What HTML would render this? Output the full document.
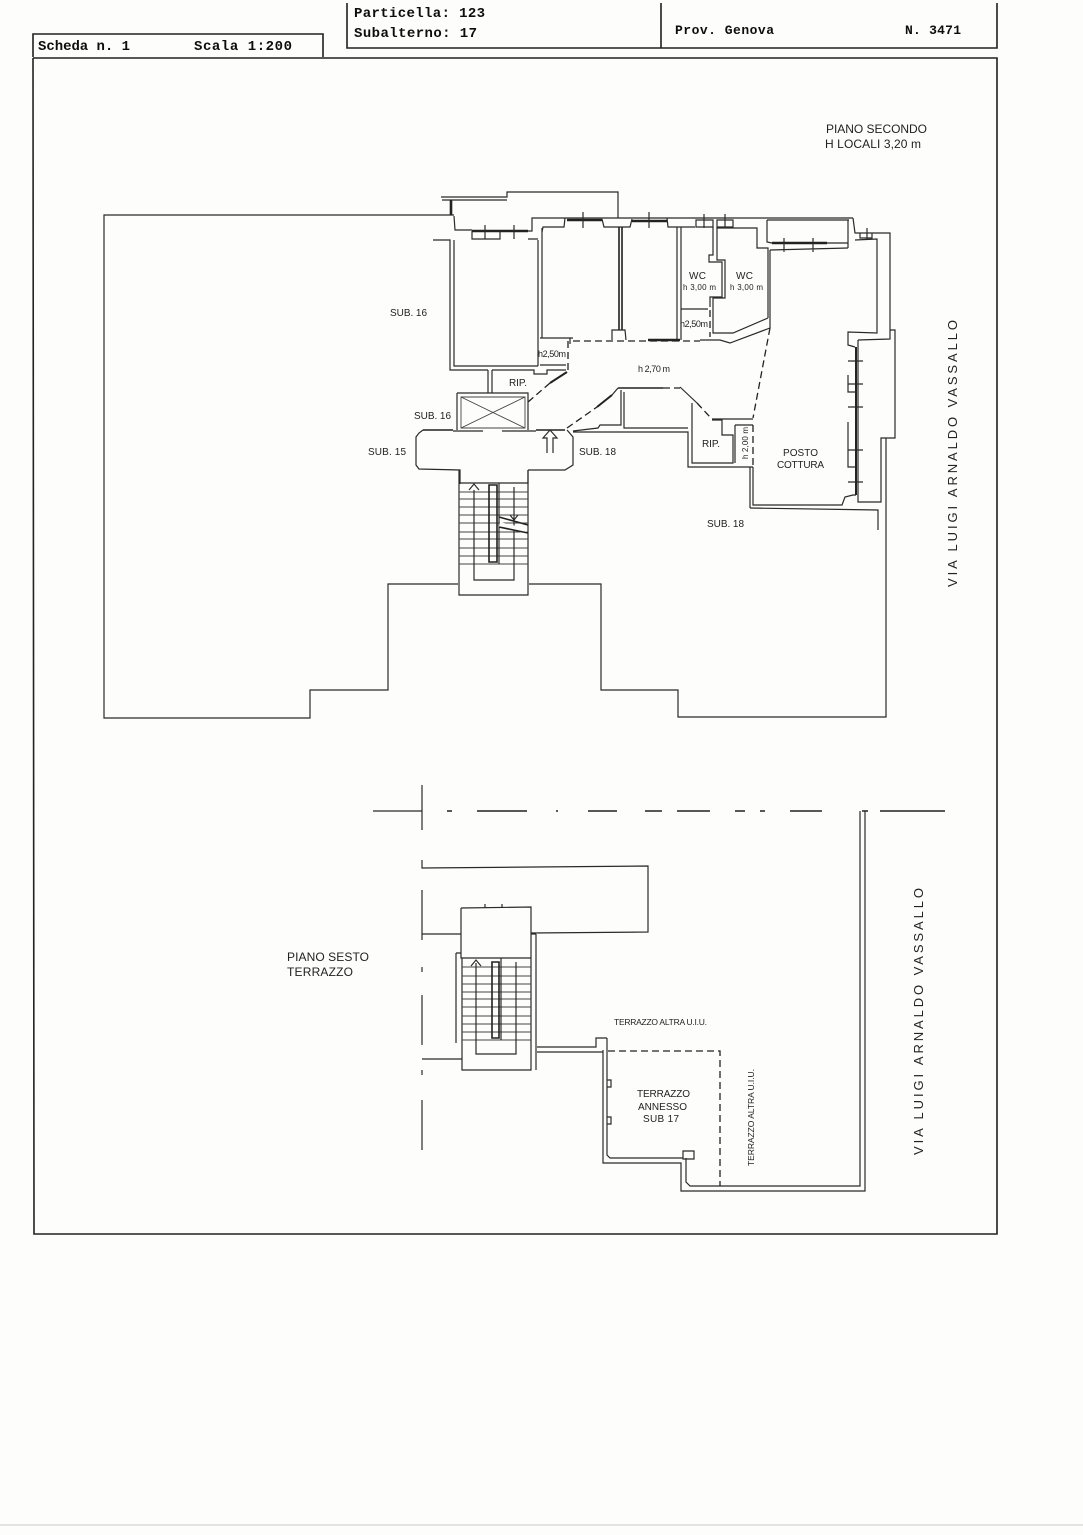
<!DOCTYPE html>
<html><head><meta charset="utf-8"><style>
html,body{margin:0;padding:0;background:#fdfdfc;width:1083px;height:1535px;overflow:hidden}
svg{display:block}
.l{fill:none;stroke:#2a2a2a;stroke-width:1.2}
.m{fill:none;stroke:#222;stroke-width:1.6}
.t{fill:none;stroke:#222;stroke-width:2.6}
.f{fill:none;stroke:#444;stroke-width:.9}
.d{fill:none;stroke:#222;stroke-width:1.3;stroke-dasharray:7 4}
text{font-family:"Liberation Sans",sans-serif;fill:#222;font-size:10px}
.h{font-family:"Liberation Mono",monospace;font-weight:bold;fill:#111;font-size:14px}
</style></head><body>
<svg width="1083" height="1535" viewBox="0 0 1083 1535" xmlns="http://www.w3.org/2000/svg">
<filter id="b"><feGaussianBlur stdDeviation="0.35"/></filter>
<g filter="url(#b)">
<!-- header and frame -->
<path class="m" d="M33 57V34H323V57M33 58H997V1234H34L33 58M347 3V48H997V3M661 3V48"/>
<text class="h" x="38" y="50" textLength="92">Scheda n. 1</text>
<text class="h" x="194" y="50" textLength="98">Scala 1:200</text>
<text class="h" x="354" y="17" textLength="131">Particella: 123</text>
<text class="h" x="354" y="37" textLength="123">Subalterno: 17</text>
<text class="h" x="675" y="34" textLength="99" style="font-size:13px">Prov. Genova</text>
<text class="h" x="905" y="34" textLength="56" style="font-size:13px">N. 3471</text>
<path d="M0 1525H1083" stroke="#ccc" stroke-width="1"/>

<!-- upper plan: outer boundary -->
<path class="l" d="M454 215H104V718H310V690H388V584H458M529 584H601V690H678V717H886V438M750 508L878 510V530"/>
<!-- top protrusion -->
<path class="l" d="M441 197H507V192H618V218M442 200H507"/>
<path class="t" d="M451 200V215"/>
<path class="l" d="M454 216L455 230H472M433 240H450V370H488M454 240V366H538M538 240V366M542 228V338"/>
<path class="t" d="M472 231H528M567 220H602M632 221H667"/>
<path class="l" d="M472 231V239H500V231M485 225V239M514 225V239M528 231H532V218H853M528 239H538M565 218L564 227H543L542 232M583 212V228M649 212V228"/>
<path class="l" d="M602 219L604 227H630L632 219"/>
<path class="m" d="M619 227V330M622 227V330"/>
<path class="l" d="M612 340V330H625L626 340M667 218L668 227H695M677 227V340M681 227V340"/>
<path class="l" d="M696 220H713V227H696ZM717 220H733V227H717ZM704 214V228M725 214V228"/>
<path class="l" d="M713 227V255H709V262H722V297H710V307M717 227V260H725V298H713V333H733L768 318M681 309H708M717 228H757V248H768V318"/>
<path class="d" d="M710 310V337"/>
<path class="l" d="M700 340H720L730 343L770 328"/>
<path class="l" d="M540 338H573M570 338V344"/>
<path class="d" d="M573 341H700"/>
<path class="t" d="M648 340H680"/>
<!-- right rooms -->
<path class="l" d="M770 250V328M767 220H849M767 220V242L772 243M848 220V248M853 218L855 233H860M860 233H872V238H860ZM867 228V240M872 233H890V339L858 340M855 240L877 239V333L848 332V345L855 347"/>
<path class="t" d="M772 243H827"/>
<path class="l" d="M827 243H848M770 250L848 248M784 238V252M813 238V252"/>
<path class="t" d="M856 347V495" style="stroke-width:2"/>
<path class="l" d="M858 340V502H881V438H895V330H890M848 375V392H855M848 422V467H856"/>
<path class="l" d="M848 361H863M848 384H863M848 407H863M848 450H863M848 482H863"/>
<path class="l" d="M753 467V505H842L845 497L853 495H856M750 467V508"/>
<path class="d" d="M770 328L753 418"/>
<!-- left lower rooms -->
<path class="l" d="M540 365H566M492 370H534V374H547V370H566"/>
<path class="d" d="M568 341V372"/>
<path class="t" d="M567 372L550 383" style="stroke-width:2"/>
<path class="d" d="M550 383L528 402"/>
<path class="l" d="M488 370V393M492 370V393M457 393H528V430M457 393V430"/>
<path class="f" d="M461 397H525V428H461ZM461 397L525 428M525 397L461 428"/>
<path class="m" d="M423 430H453M536 430H565"/>
<path class="l" d="M453 431H483M502 431H536M423 430L419 433L416 437V465L419 469L460 470V484M528 470V484M528 470H565L573 465V437L567 430"/>
<path class="d" d="M567 428L597 407"/>
<path class="t" d="M597 407L612 395" style="stroke-width:2"/>
<path class="l" d="M612 395L618 388"/>
<path class="m" d="M618 388H663"/>
<path class="d" d="M663 388H680"/>
<path class="l" d="M680 387L697 403M621 390V425H600L598 428L573 431M624 392V428H688M573 432H688V467H753M692 403V463H733V435H722V420H712M712 419H753"/>
<path class="d" d="M697 403L710 417"/>
<path class="l" d="M735 425V463M735 425H753"/>
<path class="d" d="M753 425V465"/>
<!-- entry arrow -->
<path class="l" d="M547 453V438H543L550 430L557 438H553V453"/>
<!-- stairs upper -->
<path class="l" d="M459 470V595H528V470M459 483H528"/>
<path class="f" d="M459 492H528M459 499H528M459 507H528M459 515H528M459 523H528M459 532H528M459 539H528M459 548H528M459 556H528M459 564H528"/>
<path class="m" d="M489 485H497V562H489Z"/>
<path class="l" d="M499 483V564M474 490V580H514V487M469 490L474 484L479 490M510 515L514 520L518 515"/>
<rect x="500" y="522" width="28" height="5" fill="#fdfdfc" transform="rotate(14 500 522)"/>
<path class="m" d="M499 517L528 525M499 527L528 533"/>

<!-- lower plan -->
<path class="l" d="M422 785V830M373 811H422M422 860V868L648 866V932L531 933M422 934H461M422 890V940M422 967V972M422 995V1045M422 1070V1075M422 1100V1150"/>
<path class="m" d="M447 811H452M477 811H527M556 811H558M588 811H617M645 811H662M677 811H710M735 811H745M760 811H765M790 811H822M862 811H868M880 811H945"/>
<path class="l" d="M860 811V1186H690L686 1182V1158M865 811V1191H681V1163H603V1050M607 1053V1155L610 1158H683M683 1151H694V1159H683ZM607 1080H611V1087H607M607 1117H611V1124H607"/>
<path class="l" d="M461 908L531 907V1070H462V958M461 908V958H531M456 953V1043M456 953H461M536 934V1070M485 904V908M502 904V908M536 934H531"/>
<path class="f" d="M462 967H531M462 976H531M462 984H531M462 992H531M462 999H531M462 1007H531M462 1016H531M462 1024H531M462 1032H531M462 1040H531"/>
<path class="m" d="M492 962H499V1038H492Z"/>
<path class="l" d="M501 958V1040M476 963V1054H516V962M471 966L476 960L481 966M422 1059H462"/>
<path class="l" d="M537 1047H596V1038H607M537 1052H603M596 1038V1047M607 1038V1053"/>
<path class="d" d="M608 1051H720V1186"/>

<!-- labels -->
<text x="826" y="133" textLength="101" style="font-size:12px">PIANO SECONDO</text>
<text x="825" y="148" textLength="96" style="font-size:12px">H LOCALI 3,20 m</text>
<text x="390" y="316" textLength="37">SUB. 16</text>
<text x="414" y="419" textLength="37">SUB. 16</text>
<text x="368" y="455" textLength="38">SUB. 15</text>
<text x="579" y="455" textLength="37">SUB. 18</text>
<text x="707" y="527" textLength="37">SUB. 18</text>
<text x="509" y="386" textLength="18">RIP.</text>
<text x="702" y="447" textLength="18">RIP.</text>
<text x="638" y="372" textLength="32" style="font-size:9px">h 2,70 m</text>
<text x="538" y="357" textLength="28" style="font-size:9px">h2,50m</text>
<text x="680" y="327" textLength="28" style="font-size:9px">h2,50m</text>
<text x="689" y="279" textLength="17">WC</text>
<text x="736" y="279" textLength="17">WC</text>
<text x="683" y="290" textLength="33" style="font-size:8px">h 3,00 m</text>
<text x="730" y="290" textLength="33" style="font-size:8px">h 3,00 m</text>
<text transform="translate(748 459) rotate(-90)" textLength="32" style="font-size:8px">h 2,00 m</text>
<text x="783" y="456" textLength="35">POSTO</text>
<text x="777" y="468" textLength="47">COTTURA</text>
<text transform="translate(957 587) rotate(-90)" textLength="267" style="font-size:13px">VIA LUIGI ARNALDO VASSALLO</text>
<text transform="translate(923 1155) rotate(-90)" textLength="267" style="font-size:13px">VIA LUIGI ARNALDO VASSALLO</text>
<text x="287" y="961" textLength="82" style="font-size:12px">PIANO SESTO</text>
<text x="287" y="976" textLength="66" style="font-size:12px">TERRAZZO</text>
<text x="614" y="1025" textLength="93" style="font-size:8.5px">TERRAZZO ALTRA U.I.U.</text>
<text x="637" y="1097" textLength="53">TERRAZZO</text>
<text x="638" y="1110" textLength="49">ANNESSO</text>
<text x="643" y="1122" textLength="36">SUB 17</text>
<text transform="translate(754 1166) rotate(-90)" textLength="97" style="font-size:8.5px">TERRAZZO ALTRA U.I.U.</text>
</g>
</svg>
</body></html>
